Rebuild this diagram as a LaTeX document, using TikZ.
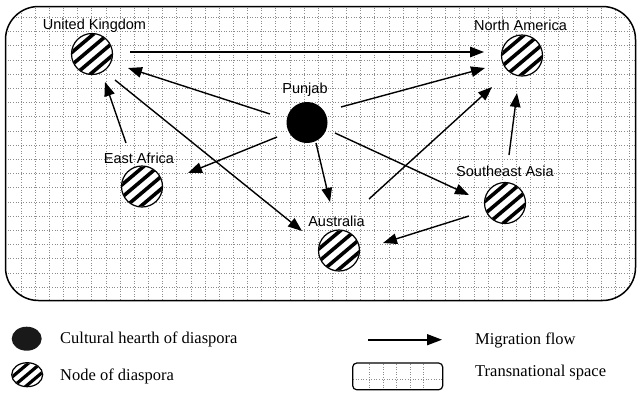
\documentclass[tikz,border=0pt]{standalone}
\usepackage{fontspec}
\setmainfont{Liberation Serif}
\newfontfamily\labfont{Liberation Sans}
\usetikzlibrary{arrows.meta,calc,shapes.geometric}
\tikzset{
  place/.style={circle, draw, line width=1.2pt, fill=white, minimum size=41pt, inner sep=0pt},
  hearth/.style={circle, fill=black, minimum size=41pt, inner sep=0pt},
  lab/.style={font=\labfont\fontsize{14.5}{16}\selectfont, anchor=base, inner sep=0pt},
  legtext/.style={font=\fontsize{16.5}{18}\selectfont, anchor=base west, inner sep=0pt},
  flow/.style={line width=1.4pt, -{Triangle[length=14pt,width=10.5pt]}},
  gridline/.style={black!45, line width=0.6pt, dash pattern=on 1pt off 1.6pt},
}
\newcommand\hatchat[1]{%
  \begin{scope}
    \clip (#1) circle[radius=20];
    \foreach \d in {-14.25,-4.75,4.75,14.25}
      \draw[line width=3.6pt] ($(#1)+(\d*0.643-26,\d*0.766+22)$) -- ++(52,-44);
  \end{scope}}
\begin{document}
\begin{tikzpicture}[x=1pt,y=-1pt]
\useasboundingbox (0,0) rectangle (637,392);
% transnational space
\begin{scope}
  \clip[rounded corners=33pt] (5.5,6.5) rectangle (635.5,300.5);
  \foreach \k in {0,...,44} \draw[gridline] (21+14.15*\k,0) -- ++(0,310);
  \foreach \k in {0,...,21} \draw[gridline] (0,3.1+14.2*\k) -- ++(640,0);
\end{scope}
\draw[line width=1.5pt, rounded corners=33pt] (5.5,6.5) rectangle (635.5,300.5);
% places
\node[place] (uk) at (92,54) {};
\node[place] (na) at (522,55.5) {};
\node[hearth] (pj) at (307,122.5) {};
\node[place] (ea) at (142,186.5) {};
\node[place] (au) at (339,250.5) {};
\node[place] (sea) at (505,203) {};
\hatchat{uk}\hatchat{na}\hatchat{ea}\hatchat{au}\hatchat{sea}
% labels
\node[lab] (ukl) at (94.5,29.3) {United Kingdom};
\node[lab] (nal) at (520.5,30.7) {North America};
\node[lab] (pjl) at (305,93.3) {Punjab};
\node[lab] (eal) at (139,163.3) {East Africa};
\node[lab] (aul) at (336.5,226.7) {Australia};
\node[lab] (seal) at (505,176.7) {Southeast Asia};
% flows
\draw[flow] ([shift={(38,-2)}]uk.center) -- ([shift={(-38,-3.5)}]na.center);
\draw[flow] ([shift={(-37,-8.5)}]pj.center) -- ([shift={(36,14)}]uk.center);
\draw[flow] ([shift={(34,-15.5)}]pj.center) -- ([shift={(-37,12.5)}]na.center);
\draw[flow] ([shift={(-16,-43.5)}]ea.center) -- ([shift={(13,28)}]uk.center);
\draw[flow] ([shift={(23,26)}]uk.center) -- ([shift={(-37,-19.5)}]au.center);
\draw[flow] ([shift={(-30,14.5)}]pj.center) -- ([shift={(46,-13.5)}]ea.center);
\draw[flow] ([shift={(9,20.5)}]pj.center) -- ([shift={(-9,-48.5)}]au.center);
\draw[flow] ([shift={(28,10.5)}]pj.center) -- ([shift={(-36,-8)}]sea.center);
\draw[flow] ([shift={(30,-51.5)}]au.center) -- ([shift={(-30,31.5)}]na.center);
\draw[flow] ([shift={(4,-48)}]sea.center) -- ([shift={(-5,37.5)}]na.center);
\draw[flow] ([shift={(-36,13)}]sea.center) -- ([shift={(44,-7.5)}]au.center);
% legend
\node[ellipse, fill=black!90, minimum width=30pt, minimum height=24pt, inner sep=0pt] (lh) at (26.7,338.7) {};
\node[ellipse, draw, line width=1.2pt, fill=white, minimum width=31pt, minimum height=24pt, inner sep=0pt] (ln) at (27.2,374.7) {};
\begin{scope}
  \clip (ln.center) ellipse[x radius=15, y radius=11.5];
  \foreach \d in {-8,0,8}
    \draw[line width=3.2pt] ($(ln.center)+(\d*0.643-26,\d*0.766+22)$) -- ++(52,-44);
\end{scope}
\node[legtext] (lht) at (60,343.3) {Cultural hearth of diaspora};
\node[legtext] (lnt) at (60,380) {Node of diaspora};
\coordinate (la1) at (368,339.7);
\coordinate (la2) at (442,339.7);
\draw[line width=1.6pt, -{Triangle[length=15pt,width=11pt]}] (la1) -- (la2);
\node[legtext] (lat) at (475,344.7) {Migration flow};
\begin{scope}
  \foreach \x in {369.3,383.3,396.7,410,423.3} \draw[gridline] (\x,364) -- (\x,389);
  \draw[gridline] (353,379.7) -- (442,379.7);
\end{scope}
\node[draw, rounded corners=4pt, line width=1.2pt, minimum width=90pt, minimum height=26.7pt, inner sep=0pt] (lr) at (397.7,376.4) {};
\node[legtext] (lrt) at (475,376.3) {Transnational space};
\end{tikzpicture}
\end{document}
